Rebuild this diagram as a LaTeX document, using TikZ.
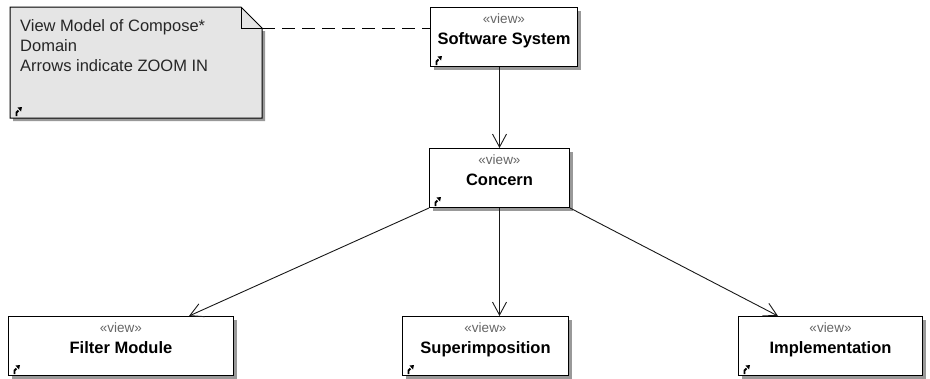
\documentclass[tikz,border=0pt]{standalone}
\usepackage{fontspec}
\setmainfont{Liberation Sans}
\usetikzlibrary{arrows.meta, shadows, calc}

% small link mark in the lower left corner of the boxes
\newcommand{\LinkMark}[1]{%
  \begin{scope}[shift={(#1)}]
    \draw[line width=1.8pt] (6.5,-2) -- (6.5,-5.5) -- (8.5,-7.5);
    \fill (7.5,-10.5) -- (12,-11) -- (11,-6.5) -- cycle;
  \end{scope}}
\newcommand{\ViewText}[1]{{\fontsize{13.5}{21}\selectfont\color{black!60}«view»}\\\textbf{#1}}

\begin{document}
\begin{tikzpicture}[x=1pt, y=-1pt,
  viewBox/.style={draw, line width=1pt, fill=white, anchor=north west,
    inner sep=0pt, minimum height=59pt, text height=37pt, text depth=22pt,
    align=center, font=\fontsize{16.5}{21}\selectfont,
    drop shadow={shadow xshift=3pt, shadow yshift=-3pt, fill=black!40, opacity=1}},
  noteBox/.style={anchor=north west, inner sep=0pt, align=left,
    font=\fontsize{16.5}{20}\selectfont, text=black!85},
  zoomArrow/.style={draw=black!90, line width=0.9pt,
    -{Straight Barb[length=13pt,width=14pt]}}]
  \useasboundingbox (0,0) rectangle (930,378);
  \pgfmathsetmacro{\NoteL}{10}
  \pgfmathsetmacro{\NoteR}{262}
  \pgfmathsetmacro{\NoteT}{7}
  \pgfmathsetmacro{\NoteB}{118}
  \pgfmathsetmacro{\NoteFold}{21}

  % the note
  \fill[black!40] (\NoteL+3,\NoteB) -- (\NoteL+3,\NoteB+3) -- (\NoteR+3,\NoteB+3)
    -- (\NoteR+3,\NoteT+\NoteFold+3) -- (\NoteR,\NoteT+\NoteFold+3) -- cycle;
  \filldraw[fill=black!10, line width=1pt] (\NoteL,\NoteT) -- (\NoteR-\NoteFold,\NoteT)
    -- (\NoteR,\NoteT+\NoteFold) -- (\NoteR,\NoteB) -- (\NoteL,\NoteB) -- cycle;
  \draw[line width=1pt] (\NoteR-\NoteFold,\NoteT) -- (\NoteR-\NoteFold,\NoteT+\NoteFold)
    -- (\NoteR,\NoteT+\NoteFold);
  \coordinate (noteCorner) at (\NoteR,\NoteT+\NoteFold);
  \node[noteBox] (note) at (20,19) {View Model of Compose*\\Domain\\Arrows indicate ZOOM IN};
  \LinkMark{\NoteL,\NoteB}

  % the views
  \node[viewBox, minimum width=147pt] (swSystem) at (430,7) {\ViewText{Software System}};
  \node[viewBox, minimum width=140pt] (concern) at (429,148) {\ViewText{Concern}};
  \node[viewBox, minimum width=225pt] (filterMod) at (8,316) {\ViewText{Filter Module}};
  \node[viewBox, minimum width=166pt] (superImp) at (402,316) {\ViewText{Superimposition}};
  \node[viewBox, minimum width=184pt] (implem) at (738,316) {\ViewText{Implementation}};
  \foreach \v in {swSystem, concern, filterMod, superImp, implem}
    \LinkMark{\v.south west};

  % connectors
  \draw[dashed, dash pattern=on 13pt off 7pt, line width=0.8pt] (noteCorner) -- (noteCorner -| swSystem.west);
  \draw[zoomArrow] (concern.north |- swSystem.south) -- (concern.north);
  \draw[zoomArrow] (concern.south west) -- ($(filterMod.north)+(68,0)$);
  \draw[zoomArrow] (concern.south) -- (concern.south |- superImp.north);
  \draw[zoomArrow] (concern.south east) -- ($(implem.north west)+(40,0)$);
\end{tikzpicture}
\end{document}
